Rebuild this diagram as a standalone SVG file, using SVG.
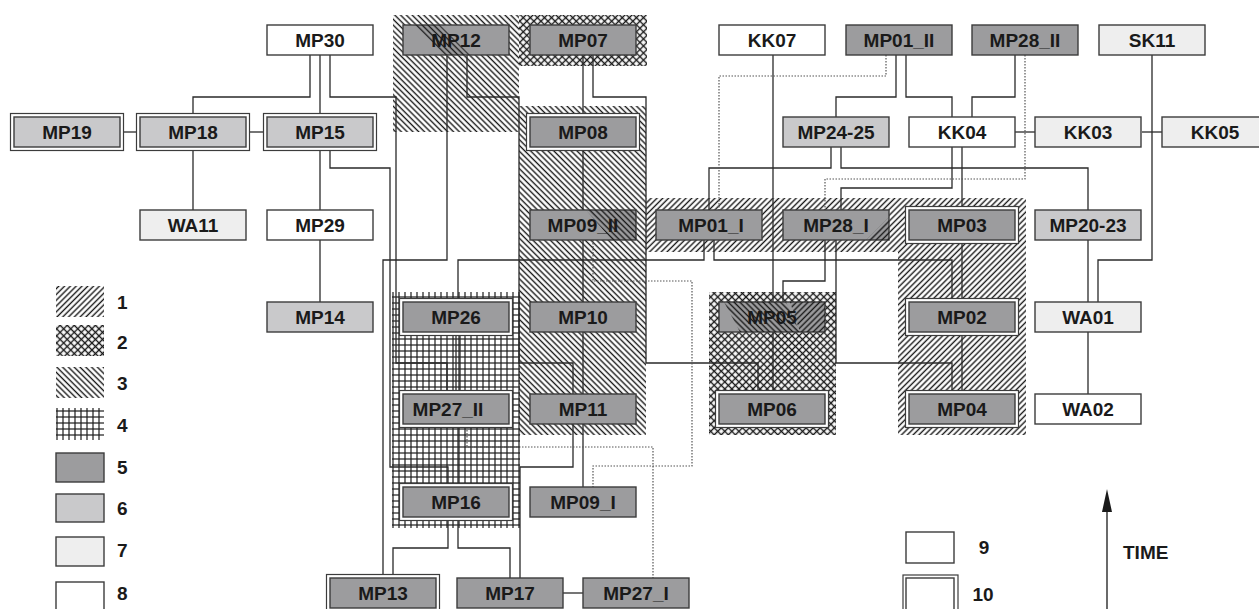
<svg xmlns="http://www.w3.org/2000/svg" width="1259" height="609" viewBox="0 0 1259 609">
<style>
.n{stroke:#3c3c3c;stroke-width:1.4}
.d{fill:#9c9c9e}.l{fill:#c9c9cb}.v{fill:#eeeeee}.w{fill:#ffffff}
.o{fill:#fff;stroke:#3c3c3c;stroke-width:1.2}
.t{font-family:"Liberation Sans",Arial,sans-serif;font-weight:bold;font-size:19px;fill:#1a1a1a;text-anchor:middle}
.lg{font-family:"Liberation Sans",Arial,sans-serif;font-weight:bold;font-size:19px;fill:#1a1a1a}
.c{fill:none;stroke:#2a2a2a;stroke-width:1.3}
.dt{fill:none;stroke:#555;stroke-width:1.2;stroke-dasharray:1.5 1.5}
.h{stroke:#1a1a1a;stroke-width:1.4}
</style>
<defs>
<pattern id="p1" width="4.1" height="4.1" patternUnits="userSpaceOnUse" patternTransform="rotate(45)"><line class="h" x1="2" y1="0" x2="2" y2="4.1"/></pattern>
<pattern id="p3" width="4.1" height="4.1" patternUnits="userSpaceOnUse" patternTransform="rotate(-45)"><line class="h" x1="2" y1="0" x2="2" y2="4.1"/></pattern>
<pattern id="p2" width="5" height="5" patternUnits="userSpaceOnUse" patternTransform="rotate(45)"><line class="h" x1="2.5" y1="0" x2="2.5" y2="5"/><line class="h" x1="0" y1="2.5" x2="5" y2="2.5"/></pattern>
<pattern id="p4" width="6" height="6" patternUnits="userSpaceOnUse"><line x1="3" y1="0" x2="3" y2="6" stroke="#1a1a1a" stroke-width="1.2"/><line x1="0" y1="3" x2="6" y2="3" stroke="#1a1a1a" stroke-width="1.2"/></pattern>
</defs>
<rect width="1259" height="609" fill="#fff"/>
<g id="zones">
<rect x="393" y="15" width="126" height="117" fill="url(#p3)"/>
<rect x="519" y="15" width="128" height="51" fill="url(#p2)"/>
<rect x="519" y="106" width="127" height="329" fill="url(#p3)"/>
<polygon points="646,198 1026,198 1026,435 898,435 898,252 646,252" fill="url(#p1)"/>
<rect x="709" y="292" width="127" height="143" fill="url(#p2)"/>
<rect x="392" y="292" width="128" height="236" fill="url(#p4)"/>
</g>
<g id="connectors">
<path class="c" d="M310,55V97H193V117"/>
<path class="c" d="M320,55V117"/>
<path class="c" d="M330,55V97H396V363H447V394"/>
<path class="c" d="M120,132H140"/>
<path class="c" d="M246,132H267"/>
<path class="c" d="M193,147V210"/>
<path class="c" d="M320,147V210"/>
<path class="c" d="M320,240V302"/>
<path class="c" d="M330,147V168H390V467H448V487"/>
<path class="c" d="M447,55V260H383V578"/>
<path class="c" d="M467,55V97H519V363H573V394"/>
<path class="c" d="M583,55V117"/>
<path class="c" d="M593,55V97H646V363H758V394"/>
<path class="c" d="M583,147V210"/>
<path class="c" d="M583,240V302"/>
<path class="c" d="M583,332V394"/>
<path class="c" d="M583,424V487"/>
<path class="c" d="M573,424V467H520V578"/>
<path class="c" d="M456,332V394"/>
<path class="c" d="M460,332V394"/>
<path class="c" d="M458,424V487"/>
<path class="c" d="M448,517V548H393V578"/>
<path class="c" d="M458,517V548H510V578"/>
<path class="c" d="M562,593H583"/>
<path class="c" d="M704,240V260H458V302"/>
<path class="c" d="M714,240V260H952V302"/>
<path class="c" d="M773,55V302"/>
<path class="c" d="M773,332V394"/>
<path class="c" d="M825,240V281H783V302"/>
<path class="c" d="M836,240V363H952V394"/>
<path class="c" d="M896,55V97H836V117"/>
<path class="c" d="M906,55V97H952V117"/>
<path class="c" d="M1015,55V97H972V117"/>
<path class="c" d="M831,147V168H709V210"/>
<path class="c" d="M841,147V168H1088V210"/>
<path class="c" d="M952,147V188H841V210"/>
<path class="c" d="M962,147V210"/>
<path class="c" d="M962,240V302"/>
<path class="c" d="M962,332V394"/>
<path class="c" d="M1015,132H1035"/>
<path class="c" d="M1142,132H1162"/>
<path class="c" d="M1152,55V260H1098V302"/>
<path class="c" d="M1088,240V302"/>
<path class="c" d="M1088,332V394"/>
<path class="dt" d="M886,55V76H719V210"/>
<path class="dt" d="M1025,55V179H825V210"/>
<path class="dt" d="M593,240V281H692V466H593V487"/>
<path class="dt" d="M467,424V447H653V578"/>
</g>
<g id="MP30"><rect class="n w" x="267" y="25" width="106" height="30"/><text class="t" x="320" y="47">MP30</text></g>
<g id="MP12"><rect class="n d" x="403" y="25" width="106" height="30"/><text class="t" x="456" y="47">MP12</text></g>
<g id="MP07"><rect class="n d" x="530" y="25" width="106" height="30"/><text class="t" x="583" y="47">MP07</text></g>
<g id="KK07"><rect class="n w" x="719" y="25" width="106" height="30"/><text class="t" x="772" y="47">KK07</text></g>
<g id="MP01_II"><rect class="n d" x="846" y="25" width="106" height="30"/><text class="t" x="899" y="47">MP01_II</text></g>
<g id="MP28_II"><rect class="n d" x="972" y="25" width="106" height="30"/><text class="t" x="1025" y="47">MP28_II</text></g>
<g id="SK11"><rect class="n v" x="1099" y="25" width="106" height="30"/><text class="t" x="1152" y="47">SK11</text></g>
<g id="MP19"><rect class="o" x="10.5" y="113.5" width="113" height="37"/><rect class="n l" x="14" y="117" width="106" height="30"/><text class="t" x="67" y="139">MP19</text></g>
<g id="MP18"><rect class="o" x="136.5" y="113.5" width="113" height="37"/><rect class="n l" x="140" y="117" width="106" height="30"/><text class="t" x="193" y="139">MP18</text></g>
<g id="MP15"><rect class="o" x="263.5" y="113.5" width="113" height="37"/><rect class="n l" x="267" y="117" width="106" height="30"/><text class="t" x="320" y="139">MP15</text></g>
<g id="MP08"><rect class="o" x="526.5" y="113.5" width="113" height="37"/><rect class="n d" x="530" y="117" width="106" height="30"/><text class="t" x="583" y="139">MP08</text></g>
<g id="MP24-25"><rect class="n l" x="783" y="117" width="106" height="30"/><text class="t" x="836" y="139">MP24-25</text></g>
<g id="KK04"><rect class="n w" x="909" y="117" width="106" height="30"/><text class="t" x="962" y="139">KK04</text></g>
<g id="KK03"><rect class="n v" x="1035" y="117" width="106" height="30"/><text class="t" x="1088" y="139">KK03</text></g>
<g id="KK05"><rect class="n v" x="1162" y="117" width="106" height="30"/><text class="t" x="1215" y="139">KK05</text></g>
<g id="WA11"><rect class="n v" x="140" y="210" width="106" height="30"/><text class="t" x="193" y="232">WA11</text></g>
<g id="MP29"><rect class="n w" x="267" y="210" width="106" height="30"/><text class="t" x="320" y="232">MP29</text></g>
<g id="MP09_II"><rect class="n d" x="530" y="210" width="106" height="30"/><text class="t" x="583" y="232">MP09_II</text></g>
<g id="MP01_I"><rect class="n d" x="656" y="210" width="106" height="30"/><text class="t" x="711" y="232">MP01_I</text></g>
<g id="MP28_I"><rect class="n d" x="783" y="210" width="106" height="30"/><text class="t" x="836" y="232">MP28_I</text></g>
<g id="MP03"><rect class="o" x="905.5" y="206.5" width="113" height="37"/><rect class="n d" x="909" y="210" width="106" height="30"/><text class="t" x="962" y="232">MP03</text></g>
<g id="MP20-23"><rect class="n l" x="1035" y="210" width="106" height="30"/><text class="t" x="1088" y="232">MP20-23</text></g>
<g id="MP14"><rect class="n l" x="267" y="302" width="106" height="30"/><text class="t" x="320" y="324">MP14</text></g>
<g id="MP26"><rect class="o" x="399.5" y="298.5" width="113" height="37"/><rect class="n d" x="403" y="302" width="106" height="30"/><text class="t" x="456" y="324">MP26</text></g>
<g id="MP10"><rect class="n d" x="530" y="302" width="106" height="30"/><text class="t" x="583" y="324">MP10</text></g>
<g id="MP05"><rect class="n d" x="719" y="302" width="106" height="30"/><text class="t" x="772" y="324">MP05</text></g>
<g id="MP02"><rect class="o" x="905.5" y="298.5" width="113" height="37"/><rect class="n d" x="909" y="302" width="106" height="30"/><text class="t" x="962" y="324">MP02</text></g>
<g id="WA01"><rect class="n v" x="1035" y="302" width="106" height="30"/><text class="t" x="1088" y="324">WA01</text></g>
<g id="MP27_II"><rect class="o" x="399.5" y="390.5" width="113" height="37"/><rect class="n d" x="403" y="394" width="106" height="30"/><text class="t" x="448" y="416">MP27_II</text></g>
<g id="MP11"><rect class="n d" x="530" y="394" width="106" height="30"/><text class="t" x="583" y="416">MP11</text></g>
<g id="MP06"><rect class="o" x="715.5" y="390.5" width="113" height="37"/><rect class="n d" x="719" y="394" width="106" height="30"/><text class="t" x="772" y="416">MP06</text></g>
<g id="MP04"><rect class="o" x="905.5" y="390.5" width="113" height="37"/><rect class="n d" x="909" y="394" width="106" height="30"/><text class="t" x="962" y="416">MP04</text></g>
<g id="WA02"><rect class="n w" x="1035" y="394" width="106" height="30"/><text class="t" x="1088" y="416">WA02</text></g>
<g id="MP16"><rect class="o" x="399.5" y="483.5" width="113" height="37"/><rect class="n d" x="403" y="487" width="106" height="30"/><text class="t" x="456" y="509">MP16</text></g>
<g id="MP09_I"><rect class="n d" x="530" y="487" width="106" height="30"/><text class="t" x="583" y="509">MP09_I</text></g>
<g id="MP13"><rect class="o" x="326.5" y="574.5" width="113" height="37"/><rect class="n d" x="330" y="578" width="106" height="30"/><text class="t" x="383" y="600">MP13</text></g>
<g id="MP17"><rect class="n d" x="457" y="578" width="106" height="30"/><text class="t" x="510" y="600">MP17</text></g>
<g id="MP27_I"><rect class="n d" x="583" y="578" width="106" height="30"/><text class="t" x="636" y="600">MP27_I</text></g>
<g id="overlays">
<polygon points="415,25 440,25 470,55 445,55" fill="url(#p3)"/>
<polygon points="586,210 636,210 636,240 612,240" fill="url(#p3)"/>
<polygon points="724,302 786,302 800,332 740,332" fill="url(#p3)"/>
<polygon points="790,302 825,302 825,332 800,332" fill="url(#p1)"/>
<polygon points="866,240 889,240 889,217" fill="url(#p1)"/>
</g>
<g id="legend">
<rect x="56" y="286" width="48" height="31" fill="url(#p1)"/>
<rect x="56" y="325" width="48" height="31" fill="url(#p2)"/>
<rect x="56" y="367" width="48" height="31" fill="url(#p3)"/>
<rect x="56" y="408" width="48" height="32" fill="url(#p4)"/>
<rect class="n d" x="56" y="453" width="48" height="29"/>
<rect class="n l" x="56" y="494" width="48" height="28"/>
<rect class="n v" x="56" y="537" width="48" height="29"/>
<rect class="n w" x="56" y="582" width="48" height="32"/>
<text class="lg" x="117" y="309">1</text>
<text class="lg" x="117" y="349">2</text>
<text class="lg" x="117" y="390">3</text>
<text class="lg" x="117" y="432">4</text>
<text class="lg" x="117" y="474">5</text>
<text class="lg" x="117" y="515">6</text>
<text class="lg" x="117" y="557">7</text>
<text class="lg" x="117" y="600">8</text>
<rect class="n w" x="906" y="532" width="48" height="31"/>
<rect class="o" x="903" y="575" width="55" height="40"/>
<rect class="n w" x="906" y="578" width="48" height="36"/>
<text class="t" x="984" y="554">9</text>
<text class="t" x="983" y="601">10</text>
<line x1="1107" y1="609" x2="1107" y2="505" stroke="#2a2a2a" stroke-width="1.4"/>
<polygon points="1107,489 1102,512 1112,512" fill="#1a1a1a"/>
<text class="lg" x="1123" y="559">TIME</text>
</g>
</svg>
